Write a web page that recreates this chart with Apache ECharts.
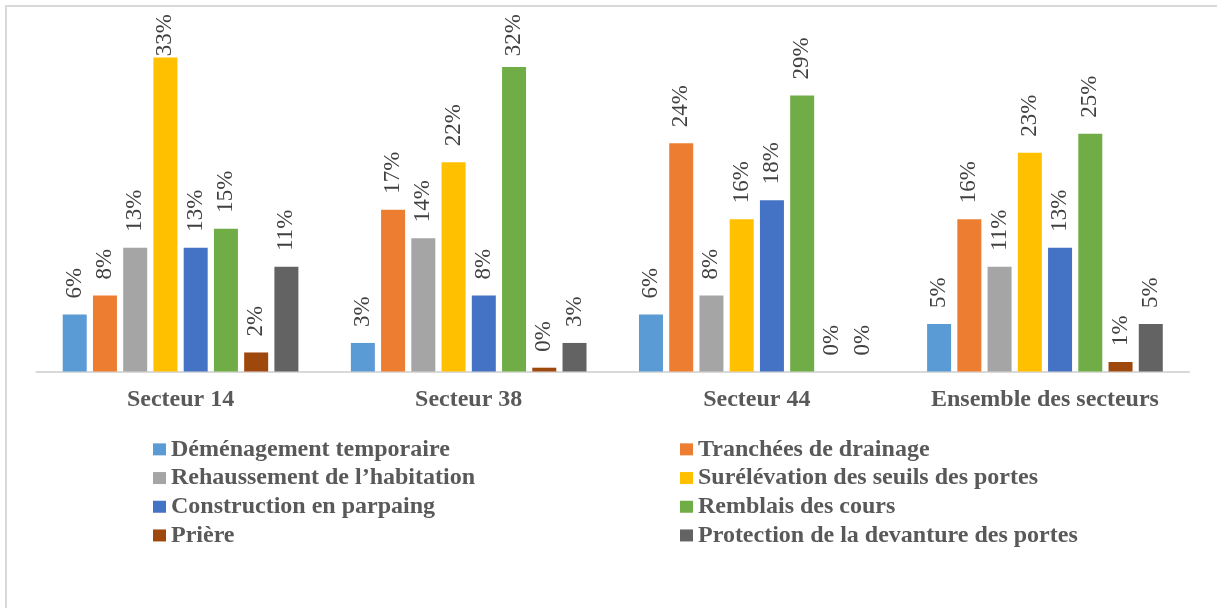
<!DOCTYPE html>
<html>
<head>
<meta charset="utf-8">
<style>
  html, body { margin: 0; padding: 0; background: #ffffff; }
  #chart { width: 1217px; height: 608px; }
</style>
<script src="https://cdn.jsdelivr.net/npm/echarts@6/dist/echarts.min.js"></script>
</head>
<body>
<div id="chart"></div>
<script>
// Sectors on the category axis
const categories = ['Secteur 14', 'Secteur 38', 'Secteur 44', 'Ensemble des secteurs'];

// Share of households (%) using each adaptation strategy, per sector
const demenagement = [6, 3, 6, 5];
const tranchees    = [8, 17, 24, 16];
const rehaussement = [13, 14, 8, 11];
const surelevation = [33, 22, 16, 23];
const construction = [13, 8, 18, 13];
const remblais     = [15, 32, 29, 25];
const priere       = [2, 0.4, 0, 1];
const protection   = [11, 3, 0, 5];

const seriesNames = [
  'Déménagement temporaire',
  'Tranchées de drainage',
  'Rehaussement de l’habitation',
  'Surélévation des seuils des portes',
  'Construction en parpaing',
  'Remblais des cours',
  'Prière',
  'Protection de la devanture des portes'
];
const seriesValues = [demenagement, tranchees, rehaussement, surelevation,
                      construction, remblais, priere, protection];
const colors = ['#5B9BD5', '#ED7D31', '#A5A5A5', '#FFC000',
                '#4472C4', '#70AD47', '#9E480E', '#636363'];

const FONT = "'Liberation Serif', 'Times New Roman', serif";

const series = seriesNames.map((name, i) => ({
  name: name,
  type: 'bar',
  data: seriesValues[i],
  barWidth: 24,
  barGap: '26%',
  itemStyle: { color: colors[i] },
  label: {
    show: true,
    position: 'top',
    distance: 16,
    rotate: 90,
    align: 'left',
    verticalAlign: 'middle',
    fontFamily: FONT,
    fontSize: 23,
    color: '#404040',
    formatter: p => Math.round(p.value) + '%'
  },
  // keep tall labels inside the chart frame
  labelLayout: function (params) {
    const r = params.labelRect;
    if (r.y < 14) {
      return { y: 14 + r.height };
    }
    return {};
  }
}));

const legendText = {
  fontFamily: FONT,
  fontSize: 24,
  fontWeight: 'bold',
  color: '#595959',
  lineHeight: 28.7
};

const option = {
  animation: false,
  backgroundColor: '#ffffff',
  color: colors,
  graphic: [{
    type: 'rect',
    shape: { x: 6, y: 6, width: 1400, height: 800 },
    style: { fill: 'none', stroke: '#d9d9d9', lineWidth: 2 },
    silent: true
  }],
  grid: { left: 36.5, right: 28, top: 38.5, bottom: 236.5, containLabel: false },
  legend: [
    {
      orient: 'vertical',
      left: 153,
      top: 435,
      padding: 0,
      itemWidth: 13,
      itemHeight: 12,
      itemGap: 0,
      icon: 'rect',
      textStyle: legendText,
      data: [seriesNames[0], seriesNames[2], seriesNames[4], seriesNames[6]]
    },
    {
      orient: 'vertical',
      left: 680,
      top: 435,
      padding: 0,
      itemWidth: 13,
      itemHeight: 12,
      itemGap: 0,
      icon: 'rect',
      textStyle: legendText,
      data: [seriesNames[1], seriesNames[3], seriesNames[5], seriesNames[7]]
    }
  ],
  xAxis: {
    type: 'category',
    data: categories,
    axisLine: { show: true, lineStyle: { color: '#d9d9d9', width: 2 } },
    axisTick: { show: false },
    axisLabel: {
      margin: 16,
      fontFamily: FONT,
      fontSize: 24,
      fontWeight: 'bold',
      color: '#595959',
      interval: 0
    }
  },
  yAxis: {
    type: 'value',
    min: 0,
    max: 35,
    interval: 5,
    show: false,
    splitLine: { show: false }
  },
  series: series
};

const chart = echarts.init(document.getElementById('chart'), null, { renderer: 'canvas' });
chart.setOption(option);
</script>
</body>
</html>
